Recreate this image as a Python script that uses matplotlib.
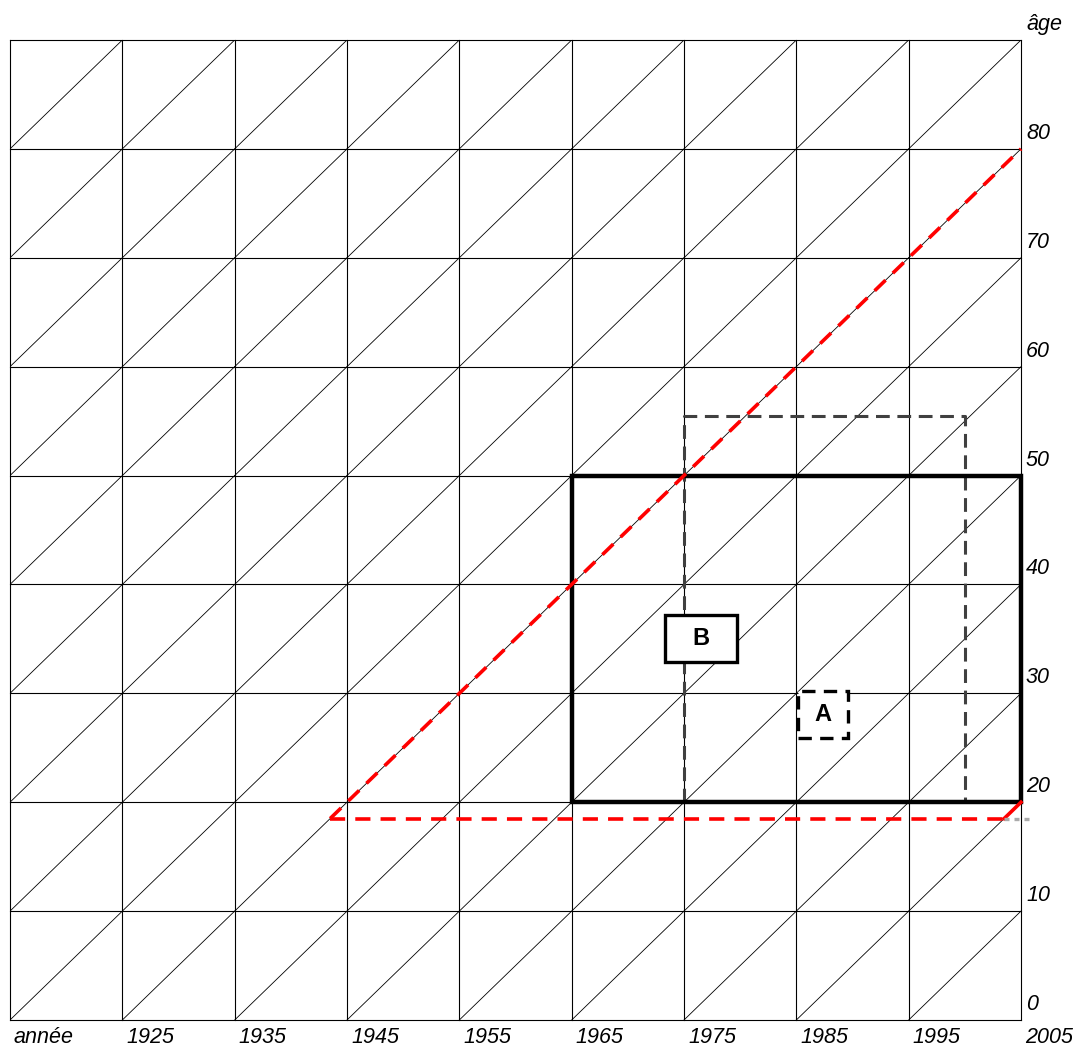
import matplotlib.pyplot as plt
from matplotlib.patches import Rectangle
from matplotlib import transforms

plt.rcParams['font.family'] = ['Liberation Sans', 'DejaVu Sans']

# Lexis grid
years = [1915, 1925, 1935, 1945, 1955, 1965, 1975, 1985, 1995, 2005]
ages = [0, 10, 20, 30, 40, 50, 60, 70, 80, 90]
year_labels = ['année', '1925', '1935', '1945', '1955', '1965', '1975', '1985', '1995', '2005']
age_labels = ['0', '10', '20', '30', '40', '50', '60', '70', '80', 'âge']

# observation windows (x0, x1, y0, y1)
window_solid = (1965, 2005, 20, 50)
window_dashed = (1975, 2000, 20, 55.5)

# cohort lines
cohort_x = [1943.5, 2005]
cohort_y = [18.5, 80]
cut_x = [1943.5, 2003.5]
cut_y = [18.5, 18.5]
short_x = [2003.5, 2005]
short_y = [18.5, 20]
tail_x = [2003.5, 2005.8]
tail_y = [18.5, 18.5]

# labelled boxes: label, center, width, height, dashed
boxes = [('B', (1976.5, 35.0), 6.4, 4.3, False),
         ('A', (1987.4, 28.05), 4.45, 4.3, True)]

fig = plt.figure(figsize=(10.78, 10.46), dpi=100)
ax = fig.add_axes([10 / 1078, 26 / 1046, 1011 / 1078, 980 / 1046])
ax.set_xlim(years[0], years[-1])
ax.set_ylim(ages[0], ages[-1])
ax.axis('off')

for x in years:
    ax.plot([x, x], [ages[0], ages[-1]], color='black', lw=0.8, clip_on=False)
for y in ages:
    ax.plot([years[0], years[-1]], [y, y], color='black', lw=0.8, clip_on=False)
for x in years[:-1]:
    for y in ages[:-1]:
        ax.plot([x, x + 10], [y, y + 10], color='black', lw=0.6)

x0, x1, y0, y1 = window_dashed
ax.plot([x0, x0, x1, x1], [y0, y1, y1, y0], color='#404040', lw=2.2,
        dashes=(4.5, 2.5))
x0, x1, y0, y1 = window_solid
ax.add_patch(Rectangle((x0, y0), x1 - x0, y1 - y0, fill=False,
                       edgecolor='black', lw=3.2, clip_on=False, zorder=4))

ax.plot(cohort_x, cohort_y, color='red', lw=2.6, dashes=(4.2, 2.8), zorder=5,
        clip_on=False)
ax.plot(cut_x, cut_y, color='red', lw=2.6, dashes=(4.2, 2.8), zorder=5)
ax.plot(short_x, short_y, color='red', lw=2.6, zorder=5, clip_on=False)
ax.plot(tail_x, tail_y, color='#aaaaaa', lw=2.4, dashes=(1.5, 1.5),
        clip_on=False, zorder=5)

for label, (cx, cy), w, h, dashed in boxes:
    ax.add_patch(Rectangle((cx - w / 2, cy - h / 2), w, h, facecolor='white',
                           edgecolor='black', lw=2.4,
                           linestyle=(0, (4, 2.5)) if dashed else '-',
                           zorder=6))
    ax.text(cx, cy, label, ha='center', va='center', fontsize=17,
            fontweight='bold', zorder=7)

off_x = transforms.offset_copy(ax.transData, fig=fig, x=4, y=-7, units='dots')
for x, lab in zip(years, year_labels):
    ax.text(x, 0, lab, transform=off_x, ha='left', va='top', fontsize=15.5,
            style='italic', clip_on=False)
off_y = transforms.offset_copy(ax.transData, fig=fig, x=5, y=5, units='dots')
for y, lab in zip(ages, age_labels):
    ax.text(years[-1], y, lab, transform=off_y, ha='left', va='bottom',
            fontsize=15.5, style='italic', clip_on=False)

fig.savefig('out.png', dpi=100, facecolor='white')
